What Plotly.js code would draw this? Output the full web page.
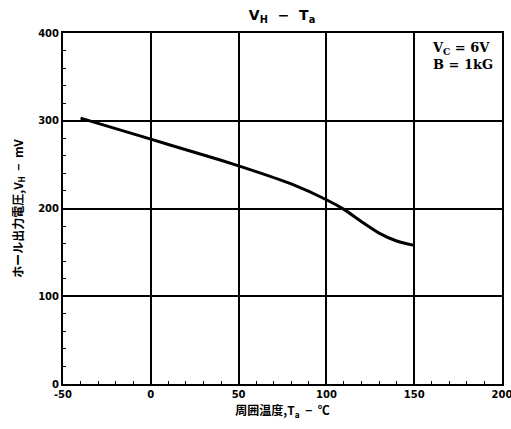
<!DOCTYPE html>
<html><head><meta charset="utf-8">
<script src="https://cdn.plot.ly/plotly-3.0.1.min.js"></script>
<style>html,body{margin:0;padding:0;background:#fff}#c{width:511px;height:429px}</style>
</head><body><div id="c"></div>
<script>
const temperature = [-40, -20, 0, 20, 40, 60, 80, 100, 110, 120, 130, 140, 150];
const hallVoltage = [303, 291, 279, 267, 255, 242, 228, 210, 199, 185, 172, 163, 158];
const xTicks = [-50, 0, 50, 100, 150, 200];
const xTickText = ['-50', '0', '50', '100', '150', '200'];
const yTicks = [0, 100, 200, 300, 400];
const yTickText = ['0', '100', '200', '300', '400'];

const fontMain = 'DejaVu Sans, Noto Sans CJK JP';
const trace = {
  x: temperature, y: hallVoltage, type: 'scatter', mode: 'lines',
  line: {color: '#000', width: 3, shape: 'spline', smoothing: 0.6},
  hoverinfo: 'skip', showlegend: false
};
const axisCommon = {
  showline: true, linecolor: '#000', linewidth: 2, mirror: true,
  showgrid: true, gridcolor: '#000', gridwidth: 2,
  zeroline: false, ticks: 'inside', ticklen: 0, tickcolor: '#000',
  ticklabeloverflow: 'allow',
  tickfont: {family: fontMain, size: 10, color: '#000', weight: 'bold'},
  fixedrange: true
};
const layout = {
  width: 511, height: 429,
  margin: {l: 63, r: 9, t: 33, b: 45},
  paper_bgcolor: '#fff', plot_bgcolor: '#fff',
  title: {text: 'V<sub>H</sub>  −  T<sub>a</sub>', x: 0.552, xanchor: 'center', y: 0.965, yanchor: 'middle',
    font: {family: fontMain, size: 14, color: '#000', weight: 'bold'}},
  xaxis: Object.assign({}, axisCommon, {
    range: [-50, 200.001], tickvals: xTicks, ticktext: xTickText,
    minor: {dtick: 10, ticks: 'inside', ticklen: 3, tickcolor: '#000', showgrid: false},
    title: {text: '周囲温度,T<sub>a</sub>  −  ℃', standoff: 8,
      font: {family: 'Noto Sans CJK JP, DejaVu Sans', size: 12, color: '#000', weight: 'bold'}}
  }),
  yaxis: Object.assign({}, axisCommon, {
    range: [0, 400], tickvals: yTicks, ticktext: yTickText,
    minor: {dtick: 20, ticks: 'inside', ticklen: 3, tickcolor: '#000', showgrid: false},
    title: {text: 'ホール出力電圧,V<sub>H</sub>  −  mV', standoff: 12,
      font: {family: 'Noto Sans CJK JP, DejaVu Sans', size: 12, color: '#000', weight: 'bold'}}
  }),
  annotations: [{
    xref: 'paper', yref: 'paper', x: 0.985, y: 0.985, xanchor: 'right', yanchor: 'top',
    text: 'V<sub>C</sub> = 6V<br>B = 1kG', align: 'left', showarrow: false,
    font: {family: 'DejaVu Serif, Liberation Serif', size: 13, color: '#000', weight: 'bold'}
  }]
};
Plotly.newPlot('c', [trace], layout, {displayModeBar: false, staticPlot: true});
</script></body></html>
